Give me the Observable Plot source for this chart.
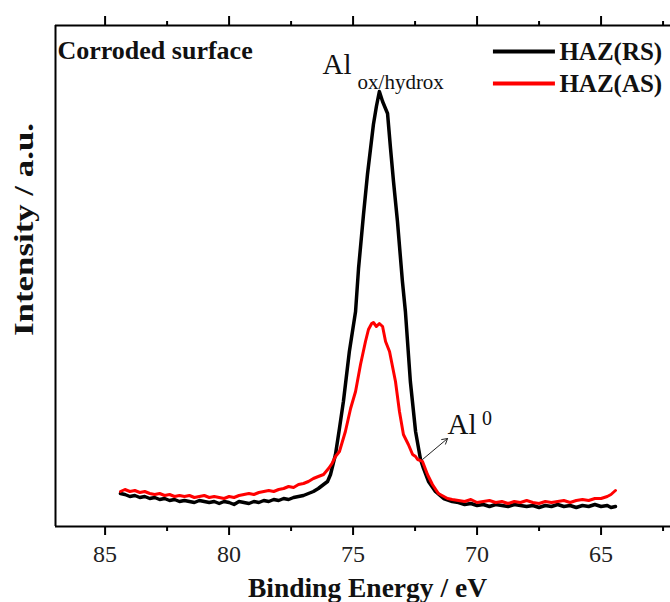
<!DOCTYPE html>
<html><head><meta charset="utf-8">
<script src="https://cdn.jsdelivr.net/npm/d3@7"></script>
<script src="https://cdn.jsdelivr.net/npm/@observablehq/plot@0.6"></script>
<style>
html,body{margin:0;padding:0;background:#fff;}
#chart svg{display:block;}
</style></head><body><div id="chart"></div>
<script>
// Binding energy (eV) and intensity (a.u.)
const rsEnergy = [84.38,84.2,84.0,83.8,83.6,83.4,83.2,83.0,82.8,82.6,82.4,82.2,82.0,81.8,81.6,81.4,81.2,81.0,80.8,80.6,80.4,80.2,80.0,79.8,79.6,79.4,79.2,79.0,78.8,78.6,78.4,78.2,78.0,77.8,77.6,77.4,77.2,77.0,76.8,76.6,
  76.4,76.19,76.03,75.91,75.71,75.55,75.39,75.15,74.9,74.78,74.58,74.42,74.18,74.06,73.94,73.81,73.61,73.49,73.37,73.21,73.01,72.89,72.69,72.48,72.28,72.16,71.96,71.68,71.35,
  71.0,70.75,70.5,70.25,70.0,69.75,69.5,69.25,69.0,68.75,68.5,68.25,68.0,67.75,67.5,67.25,67.0,66.75,66.5,66.25,66.0,65.75,65.5,65.25,65.0,64.75,64.6,64.42];
const rsIntensity = [33,32,30,31,29,30,28,29,27,28,26,27,25,26,25,24,26,25,24,25,23,25,24,22,25,24,23,25,24,26,25,27,26,28,27,29,30,31,33,35,
  38,42,45,52,72,98,125,175,215,258,312,352,402,420,435,425,413,378,345,305,245,215,145,95,67,58,45,35,28,
  25,24,22,23,21,22,20,22,21,20,22,21,20,21,19,21,20,22,20,21,19,21,20,22,20,21,19,20];

const asEnergy = [84.38,84.2,84.0,83.8,83.6,83.4,83.2,83.0,82.8,82.6,82.4,82.2,82.0,81.8,81.6,81.4,81.2,81.0,80.8,80.6,80.4,80.2,80.0,79.8,79.6,79.4,79.2,79.0,78.8,78.6,78.4,78.2,78.0,77.8,77.6,77.4,77.2,77.0,76.8,76.6,
  76.4,76.19,75.99,75.85,75.71,75.55,75.31,75.1,74.9,74.7,74.5,74.38,74.25,74.18,74.06,73.94,73.81,73.69,73.53,73.29,73.13,72.97,72.77,72.6,72.48,72.4,72.28,72.2,72.0,71.8,71.56,71.19,
  71.0,70.75,70.5,70.25,70.0,69.75,69.5,69.25,69.0,68.75,68.5,68.25,68.0,67.75,67.5,67.25,67.0,66.75,66.5,66.25,66.0,65.75,65.5,65.25,65.0,64.75,64.6,64.42];
const asIntensity = [35,37,35,36,34,35,33,32,33,31,32,30,31,30,31,29,30,31,29,30,29,28,30,29,31,32,33,32,34,35,36,35,37,38,40,39,42,43,45,48,
  50,52,58,63,70,75,95,118,135,162,185,197,203,204,200,203,200,185,175,145,115,92,82,72,70,67,66,65,52,42,33,28,
  27,26,25,27,24,25,26,24,25,23,25,24,26,24,23,25,24,25,26,24,26,27,26,28,28,30,32,36];

const seriesNames = ["HAZ(RS)", "HAZ(AS)"];
const seriesColors = ["#000000", "#ff0000"];
const majorTicks = [85, 80, 75, 70, 65];
const minorTicks = [82.5, 77.5, 72.5, 67.5, 62.5];
const xDomain = [87, 62.2];
const yDomain = [0, 501];

const rs = rsEnergy.map((e, i) => ({E: e, I: rsIntensity[i]}));
const as = asEnergy.map((e, i) => ({E: e, I: asIntensity[i]}));

const serif = "'Liberation Serif', 'Times New Roman', serif";

// annotation layout (data coordinates)
const legendY = [475, 443];
const noText = () => "";

const chart = Plot.plot({
  width: 670,
  height: 602,
  marginTop: 25,
  marginBottom: 76,
  marginLeft: 55,
  marginRight: 0,
  x: {domain: xDomain, axis: null},
  y: {domain: yDomain, axis: null},
  style: {fontFamily: serif, background: "white", overflow: "visible"},
  marks: [
    Plot.line(rs, {x: "E", y: "I", stroke: seriesColors[0], strokeWidth: 3.5, strokeLinejoin: "round"}),
    Plot.line(as, {x: "E", y: "I", stroke: seriesColors[1], strokeWidth: 3, strokeLinejoin: "round"}),
    // frame: left, top, bottom
    Plot.ruleY([yDomain[0], yDomain[1]], {stroke: "black", strokeWidth: 2}),
    Plot.ruleX([xDomain[0]], {stroke: "black", strokeWidth: 2}),
    // bottom axis
    Plot.axisX({ticks: majorTicks, anchor: "bottom", tickSize: 9, tickPadding: 9, strokeWidth: 2,
      fontSize: 24, fontFamily: serif, fill: "#222", tickFormat: d => String(d), label: null}),
    Plot.axisX({ticks: minorTicks, anchor: "bottom", tickSize: 5, strokeWidth: 2, tickFormat: noText, label: null}),
    // top ticks
    Plot.axisX({ticks: majorTicks, anchor: "top", tickSize: 10, strokeWidth: 2, tickFormat: noText, label: null}),
    Plot.axisX({ticks: minorTicks, anchor: "top", tickSize: 5, strokeWidth: 2, tickFormat: noText, label: null}),
    // axis labels
    Plot.text(["Binding Energy / eV"], {x: 74.42, y: -70, text: d => d, fontSize: 27.5, fontWeight: "bold",
      fontFamily: serif, textAnchor: "middle", lineAnchor: "bottom", fill: "#111"}),
    Plot.text(["Intensity / a.u."], {x: xDomain[0], y: 297, dx: -31, text: d => d, rotate: -90, fontSize: 27,
      fontWeight: "bold", fontFamily: serif, textAnchor: "middle", lineAnchor: "middle", fill: "#111"}),
    // panel title
    Plot.text(["Corroded surface"], {x: 86.92, y: 468, text: d => d, fontSize: 26, fontWeight: "bold",
      fontFamily: serif, textAnchor: "start", lineAnchor: "bottom", fill: "#111"}),
    // legend
    Plot.ruleY(seriesNames, {y: (d, i) => legendY[i], x1: 69.34, x2: 66.84, stroke: (d, i) => seriesColors[i], strokeWidth: 4}),
    Plot.text(seriesNames, {x: 66.68, y: (d, i) => legendY[i], text: d => d, fontSize: 25, fontWeight: "bold",
      fontFamily: serif, textAnchor: "start", lineAnchor: "middle", fill: "#111"}),
    // peak annotations
    Plot.text(["Al"], {x: 76.23, y: 453, text: d => d, fontSize: 29, fontFamily: serif, textAnchor: "start", lineAnchor: "bottom", fill: "#111"}),
    Plot.text(["ox/hydrox"], {x: 74.82, y: 438, text: d => d, fontSize: 21, fontFamily: serif, textAnchor: "start", lineAnchor: "bottom", fill: "#111"}),
    Plot.text(["Al"], {x: 71.19, y: 93, text: d => d, fontSize: 29, fontFamily: serif, textAnchor: "start", lineAnchor: "bottom", fill: "#111"}),
    Plot.text(["0"], {x: 69.80, y: 102, text: d => d, fontSize: 20, fontFamily: serif, textAnchor: "start", lineAnchor: "bottom", fill: "#111"}),
    Plot.arrow([0], {x1: 72.2, y1: 67, x2: 71.19, y2: 88, stroke: "#222", strokeWidth: 1, headLength: 9})
  ]
});

chart.querySelectorAll("text").forEach(t => {
  if (t.textContent.startsWith("Intensity")) {
    t.setAttribute("textLength", 213);
    t.setAttribute("lengthAdjust", "spacingAndGlyphs");
  }
});

document.getElementById("chart").appendChild(chart);
</script>
</body></html>
